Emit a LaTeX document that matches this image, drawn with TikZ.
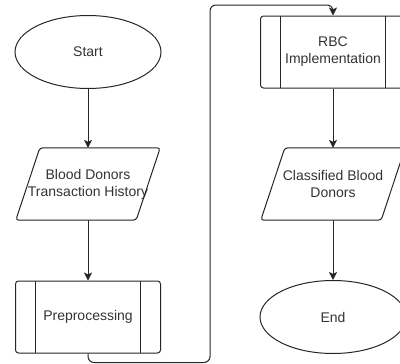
\documentclass[tikz,border=0pt]{standalone}
\usepackage{fontspec}
\setmainfont{Liberation Sans}
\usetikzlibrary{shapes.geometric,arrows.meta}

\begin{document}
\begin{tikzpicture}[x=1pt,y=1pt,font=\fontsize{14pt}{17pt}\selectfont]
				\tikzset{terminal/.style={
						ellipse,
						draw=black!85,
						line width=1pt,
						minimum width=146pt,
						minimum height=73pt,
						inner sep=0pt,
						text=black!80},
					inout/.style={
						rectangle,
						minimum width=144pt,
						minimum height=72pt,
						inner sep=0pt,
						align=center,
						text=black!80},
					subproc/.style={
						rectangle,
						draw=black!85,
						rounded corners=3pt,
						line width=1pt,
						minimum width=145pt,
						minimum height=72pt,
						align=center,
						text=black!80,
						path picture={
							\draw[black!85, line width=1pt]
							([xshift=20pt]path picture bounding box.north west) -- ([xshift=20pt]path picture bounding box.south west)
							([xshift=-20pt]path picture bounding box.north east) -- ([xshift=-20pt]path picture bounding box.south east);
					}},
					flow/.style={
						-{Stealth[length=8pt,width=8pt,inset=2pt]},
						draw=black!85,
						line width=1pt}}
				
				\clip (0,0) rectangle (400,-364);
				
				%% LEFT COLUMN
				\node[terminal] (Start) at (88,-52) {Start};
				\node[inout] (History) at (88,-184) {Blood Donors\\Transaction History};
				\node[subproc] (Prep) at (88,-317) {Preprocessing};
				
				%% RIGHT COLUMN
				\node[subproc] (RBC) at (333,-52) {RBC\\Implementation};
				\node[inout] (Classified) at (333,-184) {Classified Blood\\Donors};
				\node[terminal] (End) at (333,-317) {End};
				
				%% data boxes (slanted)
				\foreach \n in {History,Classified}
				\draw[black!85, line width=1pt, rounded corners=3pt] ([xshift=24pt]\n.north west) -- (\n.north east)
				-- ([xshift=-24pt]\n.south east) -- (\n.south west) -- cycle;
				
				\coordinate (Loop) at (210,-5);
				
				\draw[flow] (Start) -- (History);
				\draw[flow] (History) -- (Prep);
				\draw[flow, rounded corners=6pt] (Prep.south) -- ++(0,-9) -| (Loop) -| (RBC.north);
				\draw[flow] (RBC) -- (Classified);
				\draw[flow] (Classified) -- (End);
				
			\end{tikzpicture}
\end{document}
